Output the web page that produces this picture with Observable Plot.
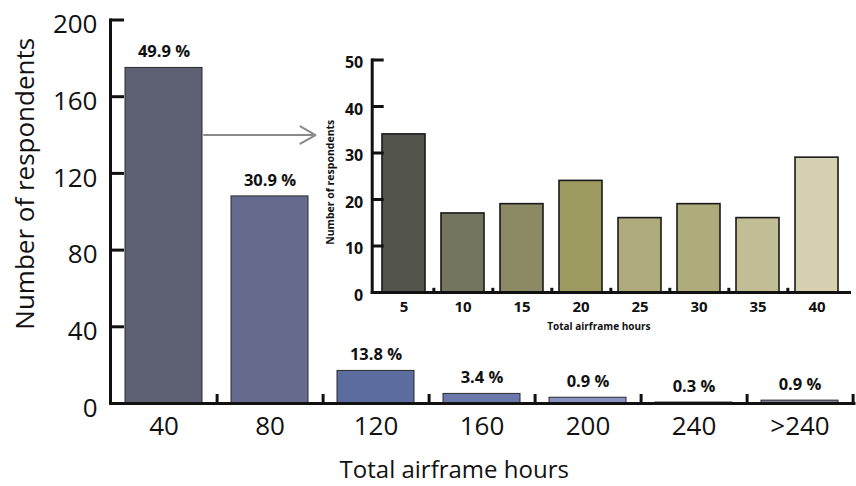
<!DOCTYPE html>
<html><head><meta charset="utf-8">
<script src="https://cdn.jsdelivr.net/npm/d3@7"></script>
<script src="https://cdn.jsdelivr.net/npm/@observablehq/plot@0.6"></script>
<style>
html,body{margin:0;padding:0;background:#fff;}
#wrap{position:relative;width:856px;height:486px;overflow:hidden;}
#main{position:absolute;left:0;top:0;}
#inset{position:absolute;left:320px;top:40px;}
svg{overflow:visible}
</style></head><body><div id="wrap"><div id="main"></div><div id="inset"></div></div>
<script>
// ---- data ----
const mainCats = ["40","80","120","160","200","240",">240"];
const mainCounts = [175, 108, 17, 5, 3, 0.5, 1.5];
const mainPercents = ["49.9 %","30.9 %","13.8 %","3.4 %","0.9 %","0.3 %","0.9 %"];
const mainColors = ["#5e6073","#646b8d","#5c6c9e","#6b78ab","#8a92c4","#9aa0c8","#7a7f99"];
const mainYTicks = [0,40,80,120,160,200];
const insetCats = ["5","10","15","20","25","30","35","40"];
const insetCounts = [34,17,19,24,16,19,16,29];
const insetColors = ["#53544b","#74755f","#8b8a64","#9c9a5e","#adab7c","#aeac7a","#c1bd95","#d5d1b1"];
const insetYTicks = [0,10,20,30,40,50];
const xTitle = "Total airframe hours";
const yTitle = "Number of respondents";
const arrowFrom = "40", arrowTo = "80", arrowAt = 140;

const mainData = mainCats.map((c,i)=>({cat:c, n:mainCounts[i], pct:mainPercents[i], color:mainColors[i]}));
const insetData = insetCats.map((c,i)=>({cat:c, n:insetCounts[i], color:insetColors[i]}));

// ---- main chart ----
const W = 856, H = 486, mL = 110, mR = 2.5, mT = 19.5, mB = 83;
const step = (W - mL - mR) / mainCats.length;
const main = Plot.plot({
  width: W, height: H, marginLeft: mL, marginRight: mR, marginTop: mT, marginBottom: mB,
  x: {domain: mainCats, paddingInner: 0.27, paddingOuter: 0.135, label: null},
  y: {domain: [0, 200], label: null},
  style: {fontFamily: "Open Sans", background: "transparent", color: "#111"},
  marks: [
    Plot.barY(mainData, {x: "cat", y: "n", fill: "color", stroke: "#2b2b2b", strokeWidth: 1}),
    Plot.text(mainData, {x: "cat", y: "n", text: "pct", dy: -16, fontSize: 16.5, fontWeight: "bold", fill: "#111"}),
    Plot.ruleX(mainCats, {x: d => d, dx: step/2, y1: 0, y2: 4.7, strokeWidth: 3, stroke: "#111"}),
    Plot.frame({anchor: "left", strokeWidth: 3, stroke: "#111"}),
    Plot.frame({anchor: "bottom", strokeWidth: 3, stroke: "#111"}),
    Plot.axisY({ticks: mainYTicks, tickSize: -14, fill: "none", strokeWidth: 3, stroke: "#111", label: null}),
    Plot.axisY({ticks: mainYTicks, tickSize: 0, tickPadding: 13, fontSize: 26, dy: 5, label: null, fill: "#111"}),
    Plot.axisX({tickSize: 0, tickPadding: 13, fontSize: 26, label: null, fill: "#111"}),
    Plot.text([xTitle], {text: d => d, frameAnchor: "bottom", textAnchor: "middle", lineAnchor: "middle", dx: -28, dy: 67, fontSize: 24, fill: "#111"}),
    Plot.text([yTitle], {text: d => d, frameAnchor: "left", textAnchor: "middle", lineAnchor: "middle", rotate: -90, dx: -85, dy: -28, fontSize: 26, fill: "#111"}),
    Plot.arrow([{a: arrowFrom, b: arrowTo, y: arrowAt}], {x1: "a", x2: "b", y1: "y", y2: "y", insetStart: 40, insetEnd: -45.5, stroke: "#8a8a8a", strokeWidth: 2, headLength: 13})
  ]
});
document.getElementById("main").appendChild(main);

// ---- inset chart ----
const iW = 536, iH = 300, iL = 51.7, iR = 7, iT = 19.5, iB = 48;
const iStep = (iW - iL - iR) / insetCats.length;
const inset = Plot.plot({
  width: iW, height: iH, marginLeft: iL, marginRight: iR, marginTop: iT, marginBottom: iB,
  x: {domain: insetCats, paddingInner: 0.27, paddingOuter: 0.135, label: null},
  y: {domain: [0, 50], label: null},
  style: {fontFamily: "Open Sans", fontWeight: "bold", background: "transparent", color: "#111"},
  marks: [
    Plot.barY(insetData, {x: "cat", y: "n", fill: "color", stroke: "#1a1a1a", strokeWidth: 1.6}),
    Plot.ruleX(insetCats.slice(0, -1), {x: d => d, dx: iStep/2, y1: 0, y2: 0.9, strokeWidth: 3, stroke: "#111"}),
    Plot.frame({anchor: "left", strokeWidth: 3, stroke: "#111"}),
    Plot.frame({anchor: "bottom", strokeWidth: 3, stroke: "#111"}),
    Plot.axisY({ticks: insetYTicks, tickSize: -12, fill: "none", strokeWidth: 3, stroke: "#111", label: null}),
    Plot.axisY({ticks: insetYTicks, tickSize: 0, tickPadding: 9, fontSize: 16, fontWeight: "bold", dy: 3, label: null, fill: "#111"}),
    Plot.axisX({tickSize: 0, tickPadding: 9, fontSize: 15, fontWeight: "bold", label: null, fill: "#111"}),
    Plot.text([xTitle], {text: d => d, frameAnchor: "bottom", textAnchor: "middle", lineAnchor: "middle", dx: -12, dy: 34, fontSize: 10, fontWeight: "bold", fill: "#111"}),
    Plot.text([yTitle], {text: d => d, frameAnchor: "left", textAnchor: "middle", lineAnchor: "middle", rotate: -90, dx: -42, dy: 6, fontSize: 10.5, fontWeight: "bold", fill: "#111"})
  ]
});
document.getElementById("inset").appendChild(inset);
</script>
</body></html>
